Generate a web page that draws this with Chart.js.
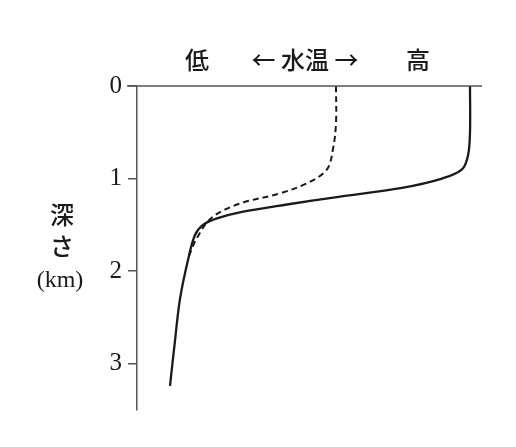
<!DOCTYPE html>
<html>
<head>
<meta charset="utf-8">
<script src="https://cdn.jsdelivr.net/npm/chart.js@4"></script>
<style>
  html, body { margin: 0; padding: 0; background: #fff; }
  #wrap { width: 516px; height: 447px; }
</style>
</head>
<body>
<div id="wrap"><canvas id="grafico"></canvas></div>
<script>
// Profundidade (km) e temperatura relativa (escala arbitrária, sem unidade)
const depthTicks = [0, 1, 2, 3];
const solidTemp  = [333, 333, 331, 325, 305, 265, 200, 150, 105, 80, 66, 58, 51, 43, 38, 33];
const solidDepth = [0, 0.5, 0.75, 0.9, 1.0, 1.1, 1.2, 1.28, 1.36, 1.43, 1.5, 1.61, 1.88, 2.3, 2.75, 3.24];
const dashTemp   = [199, 199, 196, 190, 172, 143, 103, 75, 60, 51];
const dashDepth  = [0, 0.4, 0.68, 0.9, 1.04, 1.16, 1.27, 1.42, 1.64, 1.86];

const toPoints = (xs, ys) => xs.map((x, i) => ({ x: x, y: ys[i] }));
const ink = "#1a1a1a";

// Textos extras: título do eixo de temperatura, rótulo de profundidade e linha superior
const anotacoes = {
  id: "anotacoes",
  afterDraw(chart) {
    const { ctx, chartArea } = chart;
    ctx.save();
    ctx.strokeStyle = "#555";
    ctx.lineWidth = 1.5;
    ctx.beginPath();
    ctx.moveTo(chartArea.left - 10, chartArea.top);
    ctx.lineTo(chartArea.right, chartArea.top);
    ctx.stroke();

    ctx.fillStyle = ink;
    ctx.font = "500 24px 'Noto Sans CJK JP'";
    ctx.textAlign = "center";
    ctx.textBaseline = "middle";
    ctx.fillText("低", 197, 60);
    ctx.fillText("← 水温 →", 305, 60);
    ctx.fillText("高", 418, 60);
    ctx.fillText("深", 62, 215);
    ctx.fillText("さ", 62, 246);
    ctx.font = "24px 'Liberation Serif', serif";
    ctx.fillText("(km)", 60, 281);
    ctx.restore();
  }
};

new Chart(document.getElementById("grafico"), {
  type: "line",
  data: {
    datasets: [
      {
        data: toPoints(solidTemp, solidDepth),
        borderColor: ink,
        borderWidth: 2.3,
        pointRadius: 0,
        tension: 0.35
      },
      {
        data: toPoints(dashTemp, dashDepth),
        borderColor: ink,
        borderWidth: 2,
        borderDash: [6, 4],
        pointRadius: 0,
        tension: 0.35
      }
    ]
  },
  options: {
    responsive: true,
    maintainAspectRatio: false,
    animation: false,
    layout: { padding: { left: 0, top: 86, right: 34, bottom: 37 } },
    plugins: { legend: { display: false }, tooltip: { enabled: false } },
    scales: {
      x: { type: "linear", min: 0, max: 345, display: false },
      y: {
        type: "linear",
        reverse: true,
        min: 0,
        max: 3.5,
        afterFit(scale) { scale.width = 137; },
        afterBuildTicks(scale) { scale.ticks = depthTicks.map(v => ({ value: v })); },
        grid: { drawOnChartArea: false, tickLength: 9, color: "#555", lineWidth: 1.5 },
        border: { color: "#555", width: 1.5 },
        ticks: {
          color: ink,
          padding: 6,
          font: { size: 25, family: "'Liberation Serif', serif" }
        }
      }
    }
  },
  plugins: [anotacoes]
});
</script>
</body>
</html>
